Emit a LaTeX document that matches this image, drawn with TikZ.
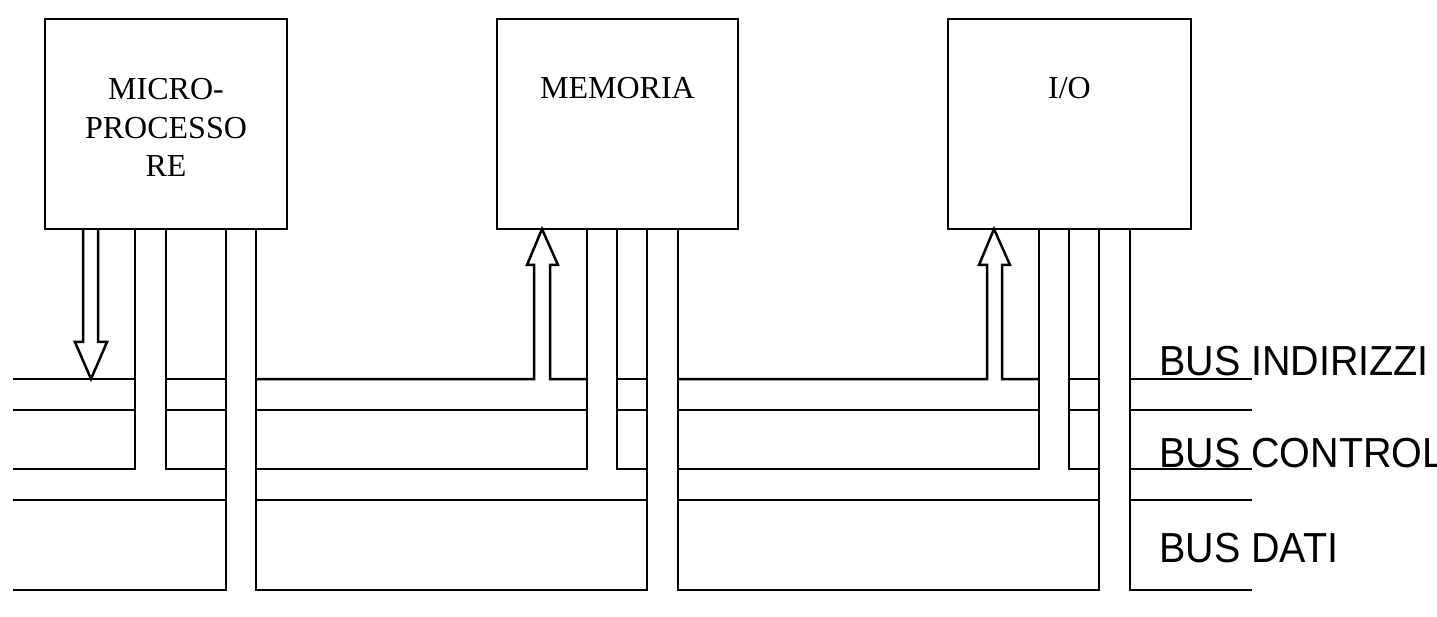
\documentclass[tikz,border=0pt]{standalone}
\usepackage{fontspec}
\newfontfamily\boxfont{Liberation Serif}
\newfontfamily\busfont{Liberation Sans}
\begin{document}
\begin{tikzpicture}[x=1pt,y=-1pt,line width=2.5pt,
  unitbox/.style={draw,rectangle,minimum width=242pt,minimum height=210pt,inner sep=0pt},
  boxlbl/.style={font=\boxfont\fontsize{32}{38}\selectfont,anchor=base,inner sep=0pt},
  buslbl/.style={font=\busfont\fontsize{42}{48}\selectfont,anchor=base west,inner sep=0pt,xscale=0.94},
  wire/.style={line join=miter}]
\useasboundingbox (0,0) rectangle (1437,617);
% units
\node[unitbox] (mp) at (166,124) {};
\node[unitbox,minimum width=241pt] (mem) at (617.5,124) {};
\node[unitbox,minimum width=243pt] (io) at (1069.5,124) {};
\node[boxlbl] (mpa) at (166,100) {MICRO-};
\node[boxlbl] (mpb) at (166,138.5) {PROCESSO};
\node[boxlbl] (mpc) at (166,177) {RE};
\node[boxlbl] (meml) at (617.5,99) {MEMORIA};
\node[boxlbl] (iol) at (1069.5,99) {I/O};
% bus labels
\node[buslbl] (bi) at (1158,375) {BUS INDIRIZZI};
\node[buslbl] (bc) at (1158,467) {BUS CONTROL};
\node[buslbl] (bd) at (1158,562) {BUS DATI};
% address bus
\draw[wire] (13,379) -- (135,379);
\draw[wire] (166,379) -- (226,379);
\draw[wire] (256,379) -- (534,379) -- (534,265) -- (527,265) -- (542,229) -- (558,265) -- (550,265) -- (550,379) -- (587,379);
\draw[wire] (617,379) -- (647,379);
\draw[wire] (678,379) -- (987,379) -- (987,265) -- (979,265) -- (994,229) -- (1010,265) -- (1002,265) -- (1002,379) -- (1039,379);
\draw[wire] (1069,379) -- (1099,379);
\draw[wire] (1130,379) -- (1252,379);
% microprocessor address arrow
\draw[wire] (83,229) -- (83,342) -- (75,342) -- (91,379) -- (107,342) -- (98,342) -- (98,229);
% line 410
\draw[wire] (13,410) -- (135,410);
\draw[wire] (166,410) -- (226,410);
\draw[wire] (256,410) -- (587,410);
\draw[wire] (617,410) -- (647,410);
\draw[wire] (678,410) -- (1039,410);
\draw[wire] (1069,410) -- (1099,410);
\draw[wire] (1130,410) -- (1252,410);
% control bus
\draw[wire] (13,469) -- (135,469) -- (135,229);
\draw[wire] (166,229) -- (166,469) -- (226,469);
\draw[wire] (256,469) -- (587,469) -- (587,229);
\draw[wire] (617,229) -- (617,469) -- (647,469);
\draw[wire] (678,469) -- (1039,469) -- (1039,229);
\draw[wire] (1069,229) -- (1069,469) -- (1099,469);
\draw[wire] (1130,469) -- (1252,469);
% line 500
\draw[wire] (13,500) -- (226,500);
\draw[wire] (256,500) -- (647,500);
\draw[wire] (678,500) -- (1099,500);
\draw[wire] (1130,500) -- (1252,500);
% data bus
\draw[wire] (13,590) -- (226,590) -- (226,229);
\draw[wire] (256,229) -- (256,590) -- (647,590) -- (647,229);
\draw[wire] (678,229) -- (678,590) -- (1099,590) -- (1099,229);
\draw[wire] (1130,229) -- (1130,590) -- (1252,590);
\end{tikzpicture}
\end{document}
